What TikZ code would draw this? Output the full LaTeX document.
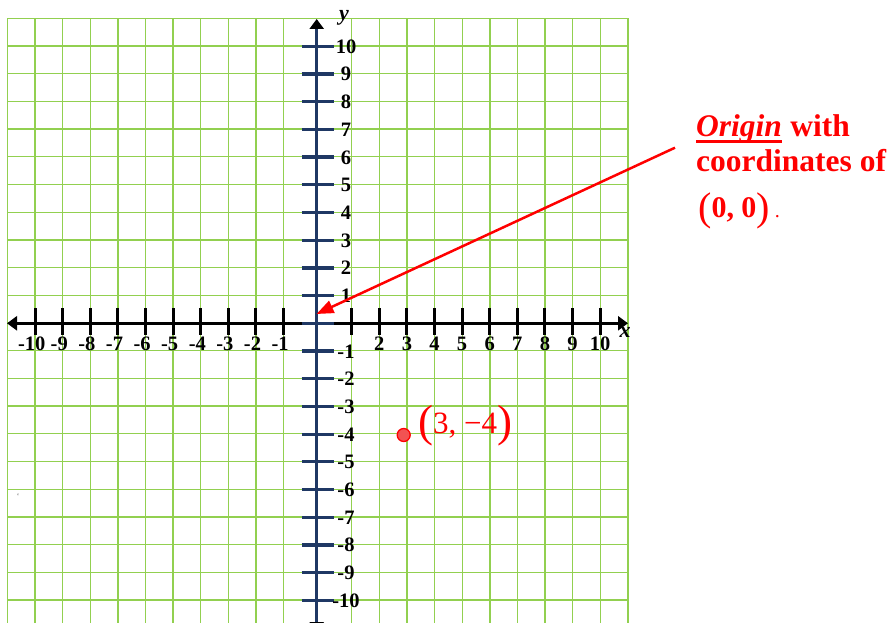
\documentclass[tikz,border=0pt]{standalone}
\usepackage{fontspec}
\setmainfont{Liberation Serif}
\usetikzlibrary{arrows.meta}
\definecolor{gridgreen}{RGB}{146,208,80}
\definecolor{navy}{RGB}{31,56,100}
\definecolor{ptred}{RGB}{242,82,82}
\begin{document}
\begin{tikzpicture}[x=1pt,y=-1pt,
  gridline/.style={draw=gridgreen,line width=1.3pt},
  xaxisline/.style={line width=2.8pt,black},
  yaxisline/.style={line width=2.8pt,navy},
  xtickline/.style={line width=3pt,black},
  ytickline/.style={line width=3.2pt,navy},
  numlabel/.style={font=\fontsize{20.5}{20.5}\selectfont\bfseries,inner sep=0pt,anchor=base},
  axname/.style={font=\fontsize{22}{22}\selectfont\bfseries\itshape,inner sep=0pt,anchor=base},
  redtext/.style={text=red,inner sep=0pt,anchor=base west},
  bigtext/.style={redtext,font=\fontsize{31.5}{31.5}\selectfont\bfseries}
]
\useasboundingbox (0,0) rectangle (892,623);

% grid
\foreach \i in {0,...,10} {
  \draw[gridline] ({7.5+27.6*\i},18.3) -- ({7.5+27.6*\i},623);
  \draw[gridline] ({351.7+27.63*\i},18.3) -- ({351.7+27.63*\i},623);
}
\foreach \j in {0,...,21} {
  \draw[gridline] (7.5,{18.3+27.7*\j}) -- (628,{18.3+27.7*\j});
}

% x axis
\coordinate (xleft) at (7,323.3);
\coordinate (xright) at (628,323.3);
\draw[xaxisline,{Triangle[length=10pt,width=14pt]}-{Triangle[length=10pt,width=14pt]}] (xleft) -- (xright);
\foreach \k in {1,...,10} {
  \draw[xtickline] ({311.1-27.6*\k},308.3) -- ++(0,27);
  \draw[xtickline] ({324.1+27.6*\k},308.3) -- ++(0,27);
  \node[numlabel] (xn\k) at ({311.1-27.6*\k},350.5) {\llap{-}\k};
}
\foreach \k in {2,...,10} {
  \node[numlabel] (xp\k) at ({324.1+27.6*\k},350.5) {\k};
}
\node[axname] (xname) at (625,337) {x};

% y axis
\coordinate (ybottom) at (316.7,632);
\coordinate (ytop) at (316.7,19);
\draw[yaxisline,{Triangle[length=10pt,width=14pt,color=black]}-{Triangle[length=10pt,width=14pt,color=black]}] (ybottom) -- (ytop);
\foreach \k in {-10,...,10} {
  \draw[ytickline] (301.7,{323.3-27.7*\k}) -- (334,{323.3-27.7*\k});
}
\foreach \k in {1,...,10} {
  \node[numlabel] (yp\k) at (346,{323.3-27.7*\k+7}) {\k};
  \node[numlabel] (yn\k) at (346,{323.3+27.7*\k+7}) {-\k};
}
\node[axname] (yname) at (344,21) {y};

% point (3,-4)
\node[circle,draw=red,fill=ptred,line width=1.3pt,minimum size=13pt,inner sep=0pt] (pt) at (403.7,435) {};
\node[redtext,font=\fontsize{31}{31}\selectfont] (ptlabel) at (418,433.3)
  {{\fontsize{45}{45}\selectfont\raisebox{-3.5pt}{(}}3, −4{\fontsize{45}{45}\selectfont\raisebox{-3.5pt}{)}}};

% origin annotation
\node[bigtext,font=\fontsize{31.5}{31.5}\selectfont\bfseries\itshape] (orig) at (696,136.7) {Origin};
\node[bigtext] (with) at ([xshift=8pt]orig.base east) {with};
\draw[red,line width=3pt] ([yshift=-5pt]orig.base west) -- ([yshift=-5pt]orig.base east);
\node[bigtext] (coord) at (696,171.7) {coordinates of};
\node[bigtext,font=\fontsize{30}{30}\selectfont\bfseries] (zero) at (698,217)
  {{\mdseries\fontsize{40}{40}\selectfont\raisebox{-3pt}{(}}0, 0{\mdseries\fontsize{40}{40}\selectfont\raisebox{-3pt}{)}}\hspace{5pt}{\mdseries\fontsize{20}{20}\selectfont.}};

\coordinate (astart) at (675,147.7);
\coordinate (origin) at (316.5,314);
\draw[red,line width=2.5pt,-{Triangle[length=17pt,width=13pt]}] (astart) -- (origin);

% stray mark
\node[inner sep=0pt,text=gray,font=\fontsize{9}{9}\selectfont] (mark) at (18,497) {`};
\end{tikzpicture}
\end{document}
